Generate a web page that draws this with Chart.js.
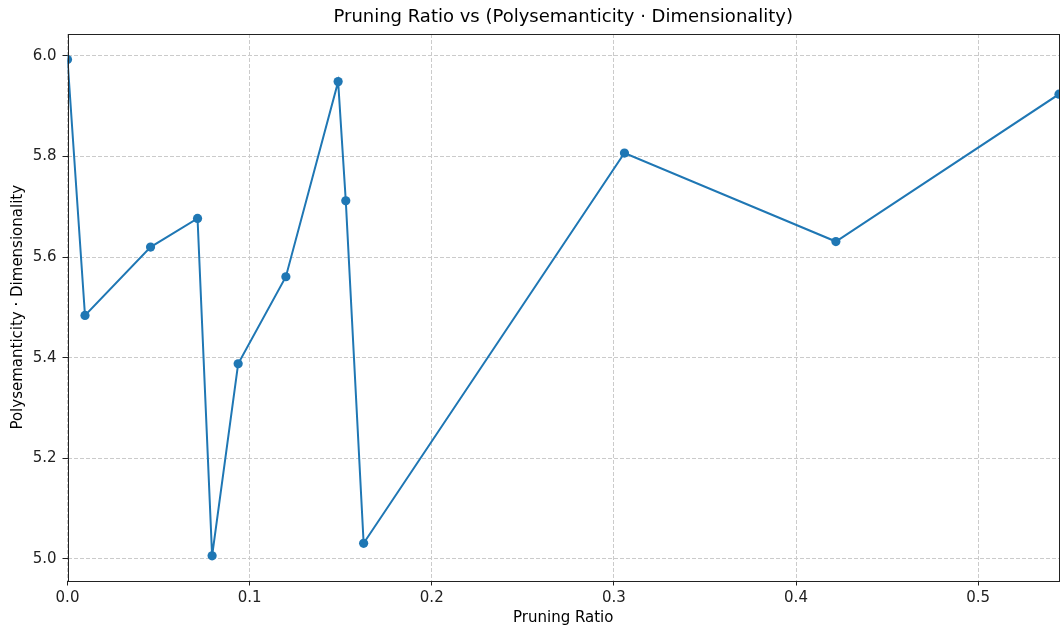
<!DOCTYPE html>
<html>
<head>
<meta charset="utf-8">
<title>Pruning Ratio vs (Polysemanticity · Dimensionality)</title>
<script src="https://cdn.jsdelivr.net/npm/chart.js@4/dist/chart.umd.min.js"></script>
<style>
  html, body { margin: 0; padding: 0; background: #fff; }
  canvas { display: block; }
</style>
</head>
<body>
<canvas id="ratioChart" width="1060" height="632"></canvas>
<script>
// measured points: pruning ratio against polysemanticity x dimensionality
const pruningRatio = [0.0, 0.0096, 0.0456, 0.0714, 0.0794, 0.0937, 0.1199, 0.1486, 0.1528, 0.1626, 0.3058, 0.4219, 0.5444];
const polyDim = [5.993, 5.484, 5.620, 5.677, 5.006, 5.388, 5.561, 5.949, 5.712, 5.031, 5.807, 5.631, 5.924];

const xTicks = [0.0, 0.1, 0.2, 0.3, 0.4, 0.5];
const yTicks = [5.0, 5.2, 5.4, 5.6, 5.8, 6.0];

const FONT = "'DejaVu Sans', sans-serif";
const gridStyle = {
    color: "#cbcbcb",
    lineWidth: 1,
    tickColor: "#222",
    tickBorderDash: [],
    tickWidth: 1,
    tickLength: 5
};
// in v4 the dash of the grid lines lives on the border options
const gridBorder = { display: false, dash: [4, 2] };

// black frame around the plot area, like the spines of the original figure
const frameBox = {
    id: "frameBox",
    afterDraw(chart) {
        const { ctx, chartArea: a } = chart;
        ctx.save();
        ctx.strokeStyle = "#222";
        ctx.lineWidth = 1;
        ctx.strokeRect(Math.round(a.left) + 0.5, Math.round(a.top) + 0.5,
                       Math.round(a.right - a.left) - 1, Math.round(a.bottom - a.top));
        ctx.restore();
    }
};

const ctx = document.getElementById("ratioChart").getContext("2d");
const ratioChart = new Chart(ctx, {
    type: "scatter",
    data: {
        datasets: [{
            data: pruningRatio.map((x, i) => ({ x: x, y: polyDim[i] })),
            showLine: true,
            borderColor: "#1f77b4",
            backgroundColor: "#1f77b4",
            borderWidth: 2,
            pointRadius: 4.6,
            pointBorderWidth: 0,
            pointHoverRadius: 4.6,
            fill: false
        }]
    },
    options: {
        responsive: false,
        animation: false,
        layout: { autoPadding: false, padding: { left: 0, right: 1, top: 0, bottom: 0 } },
        plugins: {
            legend: { display: false },
            tooltip: { enabled: false },
            title: {
                display: true,
                fullSize: false,
                text: "Pruning Ratio vs (Polysemanticity · Dimensionality)",
                color: "#000",
                font: { family: FONT, size: 18, weight: "normal" },
                padding: { top: 7, bottom: 5.4 }
            }
        },
        scales: {
            x: {
                type: "linear",
                min: 0,
                max: 0.5444,
                afterBuildTicks: s => { s.ticks = xTicks.map(v => ({ value: v })); },
                afterFit: s => { s.height = 51.5; s.paddingLeft = 0; s.paddingRight = 0; },
                grid: gridStyle,
                border: gridBorder,
                ticks: {
                    color: "#222",
                    font: { family: FONT, size: 15 },
                    padding: 4,
                    maxRotation: 0,
                    callback: v => v.toFixed(1)
                },
                title: {
                    display: true,
                    text: "Pruning Ratio",
                    color: "#000",
                    font: { family: FONT, size: 15 },
                    padding: { top: 5, bottom: 5 }
                }
            },
            y: {
                type: "linear",
                min: 4.957,
                max: 6.0437,
                afterBuildTicks: s => { s.ticks = yTicks.map(v => ({ value: v })); },
                afterFit: s => { s.width = 67.5; s.paddingTop = 0; s.paddingBottom = 0; },
                grid: gridStyle,
                border: gridBorder,
                ticks: {
                    color: "#222",
                    font: { family: FONT, size: 15 },
                    padding: 6,
                    callback: v => v.toFixed(1)
                },
                title: {
                    display: true,
                    text: "Polysemanticity · Dimensionality",
                    color: "#000",
                    font: { family: FONT, size: 15 },
                    padding: { top: 9, bottom: 9 }
                }
            }
        }
    },
    plugins: [frameBox]
});
</script>
</body>
</html>
